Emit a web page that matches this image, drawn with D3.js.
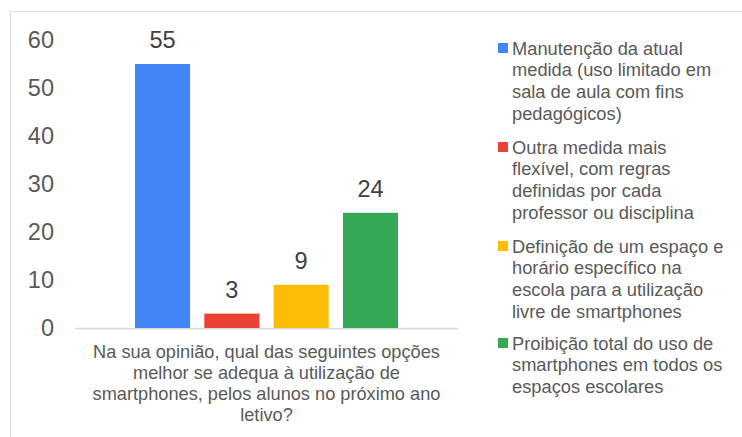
<!DOCTYPE html>
<html>
<head>
<meta charset="utf-8">
<script src="https://cdn.jsdelivr.net/npm/d3@7"></script>
<style>
  body { margin: 0; background: #fff; }
  svg { display: block; font-family: "Liberation Sans", Arial, sans-serif; }
</style>
</head>
<body>
<svg width="742" height="437"></svg>
<script>
// chart data
var question = ["Na sua opinião, qual das seguintes opções", "melhor se adequa à utilização de",
                "smartphones, pelos alunos no próximo ano", "letivo?"];
var seriesNames = [
  ["Manutenção da atual", "medida (uso limitado em", "sala de aula com fins", "pedagógicos)"],
  ["Outra medida mais", "flexível, com regras", "definidas por cada", "professor ou disciplina"],
  ["Definição de um espaço e", "horário específico na", "escola para a utilização", "livre de smartphones"],
  ["Proibição total do uso de", "smartphones em todos os", "espaços escolares"]
];
var seriesValues = [55, 3, 9, 24];
var seriesColors = ["#4285F4", "#EA4335", "#FBBC04", "#34A853"];
var yTicks = [0, 10, 20, 30, 40, 50, 60];

var svg = d3.select("svg");
var textColor = "#595959";

// outer frame
svg.append("rect")
    .attr("x", 10.5).attr("y", 11.5)
    .attr("width", 800).attr("height", 500)
    .attr("fill", "none")
    .attr("stroke", "#d9d9d9");

var y = d3.scaleLinear().domain([0, 60]).range([328, 40]);

var x0 = d3.scaleBand()
    .domain(["q"])
    .range([75, 458])
    .paddingInner(0.3134)
    .paddingOuter(0.1567);

var x1 = d3.scaleBand()
    .domain(d3.range(seriesValues.length))
    .range([x0("q"), x0("q") + x0.bandwidth()])
    .paddingInner(0.206);

// y axis labels
var yAxis = svg.append("g")
    .attr("transform", "translate(54,0)")
    .call(d3.axisLeft(y).tickValues(yTicks).tickSize(0).tickPadding(0));
yAxis.select(".domain").remove();
yAxis.selectAll("text")
    .attr("fill", textColor)
    .style("font-size", "23.5px")
    .style("font-family", "Liberation Sans, Arial, sans-serif");

// baseline
svg.append("line")
    .attr("x1", 75).attr("x2", 458)
    .attr("y1", y(0) + 0.5).attr("y2", y(0) + 0.5)
    .attr("stroke", "#d9d9d9")
    .attr("stroke-width", 1.5);

// bars
svg.append("g").selectAll("rect")
    .data(seriesValues)
    .enter().append("rect")
      .attr("x", function(d, i) { return x1(i); })
      .attr("y", function(d) { return y(d); })
      .attr("width", x1.bandwidth())
      .attr("height", function(d) { return y(0) - y(d); })
      .attr("fill", function(d, i) { return seriesColors[i]; });

// value labels
svg.append("g").selectAll("text")
    .data(seriesValues)
    .enter().append("text")
      .attr("x", function(d, i) { return x1(i) + x1.bandwidth() / 2; })
      .attr("y", function(d) { return y(d) - 16; })
      .attr("text-anchor", "middle")
      .attr("fill", "#404040")
      .style("font-size", "23.5px")
      .text(function(d) { return d; });

// category label
svg.append("g").selectAll("text")
    .data(question)
    .enter().append("text")
      .attr("x", x0("q") + x0.bandwidth() / 2)
      .attr("y", function(d, i) { return 358 + i * 21; })
      .attr("text-anchor", "middle")
      .attr("fill", textColor)
      .style("font-size", "18.2px")
      .text(function(d) { return d; });

// legend
var legendTops = [48, 147, 246, 343];
var legend = svg.append("g").selectAll("g")
    .data(seriesNames)
    .enter().append("g")
      .attr("transform", function(d, i) { return "translate(498," + legendTops[i] + ")"; });

legend.append("rect")
    .attr("x", 0).attr("y", -5)
    .attr("width", 10).attr("height", 10)
    .attr("fill", function(d, i) { return seriesColors[i]; });

legend.selectAll("text")
    .data(function(d) { return d; })
    .enter().append("text")
      .attr("x", 14)
      .attr("y", function(d, i) { return 6.5 + i * 21.7; })
      .attr("fill", textColor)
      .style("font-size", "18.3px")
      .text(function(d) { return d; });
</script>
</body>
</html>
